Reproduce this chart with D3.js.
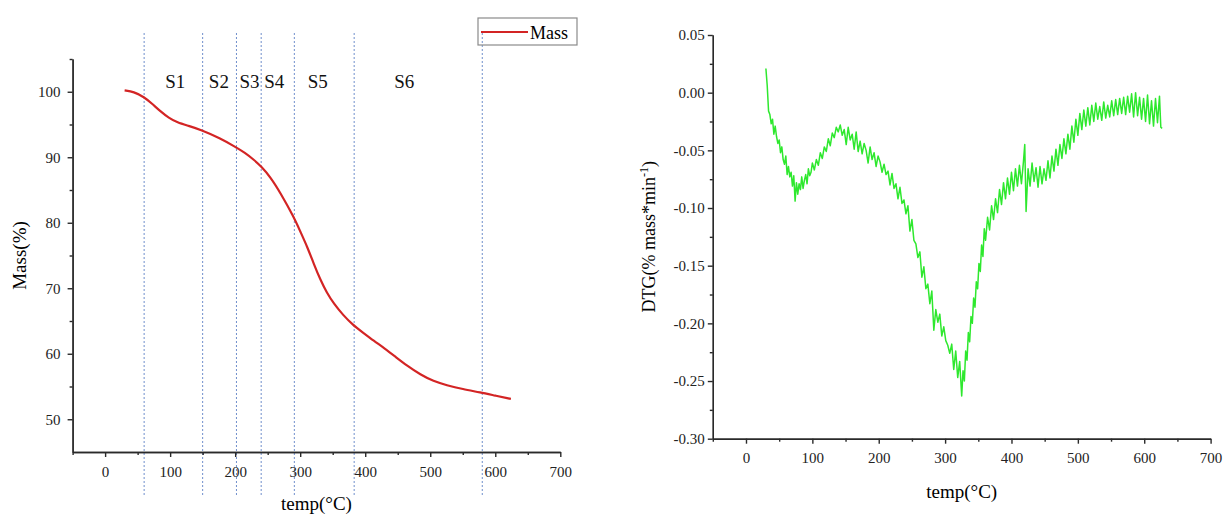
<!DOCTYPE html>
<html>
<head>
<meta charset="utf-8">
<script src="https://cdn.jsdelivr.net/npm/d3@7"></script>
<style>
  body { margin: 0; background: #fff; }
  svg { display: block; font-family: "Liberation Serif", "DejaVu Serif", serif; }
  .axis path, .axis line { stroke: #2a2a2a; stroke-width: 1.4; }
  .axis text { font-family: "Liberation Serif", serif; font-size: 15px; fill: #222; }
</style>
</head>
<body>
<div id="chart"></div>
<script>
// ---- data ----
var xTicks = [0, 100, 200, 300, 400, 500, 600, 700];
var xMinor = [-50, 50, 150, 250, 350, 450, 550, 650];
var massTicks = [50, 60, 70, 80, 90, 100];
var massMinor = [55, 65, 75, 85, 95, 105];
var dtgTicks = [0.05, 0, -0.05, -0.10, -0.15, -0.20, -0.25, -0.30];
var dtgMinor = [0.025, -0.025, -0.075, -0.125, -0.175, -0.225, -0.275];

var stageBounds = [60, 150, 202, 240, 291, 383, 580];
var stageNames = ['S1', 'S2', 'S3', 'S4', 'S5', 'S6'];
var stageLabelX = [108, 175, 222, 260, 327, 460];

var massTemp = [30, 44, 60, 72, 85, 98, 111, 128, 147, 177, 200, 215, 229, 240, 254, 270, 290, 300, 311, 321, 331, 341, 352, 366, 381,
  397, 413, 430, 447, 464, 485, 505, 525, 550, 577, 600, 624];
var massVal = [100.2, 100.0, 99.2, 98.2, 97.0, 96.0, 95.3, 94.8, 94.2, 92.9, 91.6, 90.7, 89.6, 88.6, 87.0, 84.5, 80.9, 78.7, 76.3, 73.7, 71.3, 69.3, 67.6, 65.9, 64.4,
  63.2, 62.0, 60.8, 59.5, 58.2, 56.8, 55.8, 55.2, 54.6, 54.1, 53.6, 53.1];

// DTG readings, row by row (temps and values kept in matching rows)
var dtgTemp = [
  30, 32, 34, 36, 38, 40, 42, 44, 46, 48,
  50, 52, 54, 56, 58, 60, 62, 64, 66, 68,
  70, 72, 74, 76, 78, 80, 82, 84, 86, 88,
  90, 92, 94, 96, 98, 100, 103, 106, 109, 112,
  115, 118, 121, 124, 127, 130, 133, 136, 139, 142,
  145, 148, 151, 154, 157, 160, 163, 166, 169, 172,
  175, 178, 181, 184, 187, 190, 193, 196, 199, 202,
  205, 208, 211, 214, 217, 220, 223, 226, 229, 232,
  235, 238, 241, 244, 247, 250, 253, 256, 259, 262,
  265, 268, 271, 274, 277, 280, 283, 286, 289, 292,
  295, 298, 301, 304, 307, 310, 313, 316, 319, 322,
  325, 327, 329, 331, 333, 335, 337, 339, 341, 343,
  345, 347, 349, 351, 353, 355, 357, 359, 361, 364,
  367, 370, 373, 376, 379, 382, 385, 388, 391, 394,
  397, 400, 403, 406, 409, 412, 415, 418, 420, 422,
  425, 428, 431, 434, 437, 440, 443, 446, 449, 452,
  455, 458, 461, 464, 467, 470, 473, 476, 479, 482,
  485, 488, 491, 494, 497, 500, 503, 506, 509, 512,
  515, 518, 521, 524, 527, 530, 533, 536, 539, 542,
  545, 548, 551, 554, 557, 560, 563, 566, 569, 572,
  575, 578, 581, 584, 587, 590, 593, 596, 599, 602,
  605, 608, 611, 614, 617, 620, 623, 625, 627];
var dtgVal = [
  0.021, 0.006, -0.016, -0.019, -0.027, -0.023, -0.036, -0.029, -0.038, -0.044,
  -0.041, -0.052, -0.047, -0.058, -0.062, -0.055, -0.071, -0.064, -0.073, -0.069,
  -0.081, -0.072, -0.094, -0.078, -0.088, -0.079, -0.084, -0.073, -0.083, -0.076,
  -0.071, -0.079, -0.066, -0.072, -0.069, -0.061, -0.067, -0.058, -0.063, -0.052,
  -0.057, -0.047, -0.051, -0.040, -0.046, -0.035, -0.039, -0.030, -0.034, -0.028,
  -0.037, -0.032, -0.045, -0.030, -0.041, -0.036, -0.049, -0.034, -0.051, -0.042,
  -0.053, -0.044, -0.050, -0.061, -0.047, -0.058, -0.052, -0.064, -0.055, -0.060,
  -0.069, -0.062, -0.071, -0.068, -0.080, -0.070, -0.083, -0.079, -0.092, -0.082,
  -0.096, -0.093, -0.105, -0.098, -0.120, -0.110, -0.128, -0.131, -0.143, -0.138,
  -0.160, -0.151, -0.170, -0.166, -0.183, -0.172, -0.206, -0.188, -0.199, -0.192,
  -0.211, -0.203, -0.215, -0.219, -0.226, -0.218, -0.240, -0.224, -0.247, -0.233,
  -0.263, -0.241, -0.250, -0.224, -0.232, -0.208, -0.216, -0.194, -0.200, -0.178,
  -0.186, -0.164, -0.170, -0.148, -0.155, -0.132, -0.142, -0.118, -0.128, -0.108,
  -0.119, -0.098, -0.110, -0.092, -0.104, -0.084, -0.097, -0.078, -0.092, -0.074,
  -0.088, -0.069, -0.085, -0.066, -0.081, -0.063, -0.079, -0.060, -0.045, -0.103,
  -0.066, -0.081, -0.061, -0.077, -0.065, -0.082, -0.064, -0.079, -0.066, -0.076,
  -0.059, -0.074, -0.055, -0.068, -0.049, -0.063, -0.045, -0.057, -0.040, -0.053,
  -0.036, -0.049, -0.029, -0.043, -0.023, -0.037, -0.018, -0.032, -0.015, -0.029,
  -0.013, -0.028, -0.011, -0.025, -0.009, -0.023, -0.012, -0.024, -0.008, -0.022,
  -0.011, -0.021, -0.007, -0.020, -0.006, -0.019, -0.005, -0.018, -0.004, -0.019,
  -0.003, -0.017, -0.001, -0.021, 0.000, -0.020, -0.004, -0.023, -0.005, -0.025,
  -0.002, -0.027, -0.007, -0.029, -0.005, -0.026, -0.003, -0.030, -0.031];

// ---- layout ----
var W = 1226, H = 514;
var svg = d3.select('#chart').append('svg')
    .attr('width', W)
    .attr('height', H);
svg.append('rect').attr('width', W).attr('height', H).attr('fill', '#fff');

function drawAxes(g, x, y, yVals, yMinor, yFmt, yPad) {
    var bottom = y.range()[0];
    var left = x.range()[0];
    g.append('g').attr('class', 'axis')
        .attr('transform', 'translate(0,' + bottom + ')')
        .call(d3.axisBottom(x).tickValues(xMinor).tickSize(3).tickSizeOuter(0).tickFormat(''));
    g.append('g').attr('class', 'axis')
        .attr('transform', 'translate(0,' + bottom + ')')
        .call(d3.axisBottom(x).tickValues(xTicks).tickSize(5).tickSizeOuter(0).tickPadding(9).tickFormat(d3.format('d')));
    g.append('g').attr('class', 'axis')
        .attr('transform', 'translate(' + left + ',0)')
        .call(d3.axisLeft(y).tickValues(yMinor).tickSize(3).tickSizeOuter(0).tickFormat(''));
    g.append('g').attr('class', 'axis')
        .attr('transform', 'translate(' + left + ',0)')
        .call(d3.axisLeft(y).tickValues(yVals).tickSize(5).tickSizeOuter(0).tickPadding(yPad).tickFormat(yFmt));
}

// ---- left: mass ----
var xL = d3.scaleLinear().domain([-50, 700]).range([72.6, 560.3]);
var yL = d3.scaleLinear().domain([45, 105]).range([452, 59]);
var left = svg.append('g');

// stage boundary lines
left.selectAll('.stage')
    .data(stageBounds)
    .enter().append('line')
    .attr('x1', d => xL(d)).attr('x2', d => xL(d))
    .attr('y1', 33).attr('y2', 497)
    .attr('stroke', '#6f8fcc')
    .attr('stroke-width', 1)
    .attr('stroke-dasharray', '2,2');

drawAxes(left, xL, yL, massTicks, massMinor, d3.format('d'), 7);

left.selectAll('.stageLabel')
    .data(stageNames)
    .enter().append('text')
    .attr('x', (d, i) => xL(stageLabelX[i]))
    .attr('y', 88)
    .attr('text-anchor', 'middle')
    .style('font-size', '19px')
    .style('fill', '#111')
    .text(d => d);

var massLine = d3.line()
    .x((d, i) => xL(massTemp[i]))
    .y(d => yL(d))
    .curve(d3.curveBasis);
left.append('path')
    .attr('d', massLine(massVal))
    .attr('fill', 'none')
    .attr('stroke', '#d32424')
    .attr('stroke-width', 2.2);

left.append('text')
    .attr('x', xL(325)).attr('y', 510)
    .attr('text-anchor', 'middle')
    .style('font-size', '19px')
    .text('temp(°C)');
left.append('text')
    .attr('transform', 'translate(26,' + yL(75) + ') rotate(-90)')
    .attr('text-anchor', 'middle')
    .style('font-size', '19px')
    .text('Mass(%)');

// legend
var legend = left.append('g').attr('transform', 'translate(478,18)');
legend.append('rect')
    .attr('width', 99).attr('height', 27)
    .attr('fill', '#fff')
    .attr('stroke', '#8a8a8a')
    .attr('stroke-width', 1.2);
legend.append('line')
    .attr('x1', 3).attr('x2', 50).attr('y1', 14).attr('y2', 14)
    .attr('stroke', '#d32424').attr('stroke-width', 2.2);
legend.append('text')
    .attr('x', 52).attr('y', 21)
    .style('font-size', '18px')
    .text('Mass');
left.append('line')
    .attr('x1', xL(580)).attr('x2', xL(580))
    .attr('y1', 33).attr('y2', 45)
    .attr('stroke', '#6f8fcc').attr('stroke-dasharray', '2,2');

// ---- right: DTG ----
var xR = d3.scaleLinear().domain([-50, 700]).range([712.8, 1210.6]);
var yR = d3.scaleLinear().domain([-0.30, 0.05]).range([438.7, 35]);
var right = svg.append('g');

drawAxes(right, xR, yR, dtgTicks, dtgMinor, d => d.toFixed(2), 3);

var dtgLine = d3.line()
    .x((d, i) => xR(dtgTemp[i]))
    .y(d => yR(d));
right.append('path')
    .attr('d', dtgLine(dtgVal))
    .attr('fill', 'none')
    .attr('stroke', '#2ee82e')
    .attr('stroke-width', 1.5)
    .attr('stroke-linejoin', 'round');

right.append('text')
    .attr('x', xR(325)).attr('y', 498)
    .attr('text-anchor', 'middle')
    .style('font-size', '19px')
    .text('temp(°C)');
var dtgTitle = right.append('text')
    .attr('transform', 'translate(655,' + yR(-0.125) + ') rotate(-90)')
    .attr('text-anchor', 'middle')
    .style('font-size', '18px');
dtgTitle.append('tspan').text('DTG(% mass*min');
dtgTitle.append('tspan').attr('dy', -7).style('font-size', '12px').text('-1');
dtgTitle.append('tspan').attr('dy', 7).text(')');
</script>
</body>
</html>
